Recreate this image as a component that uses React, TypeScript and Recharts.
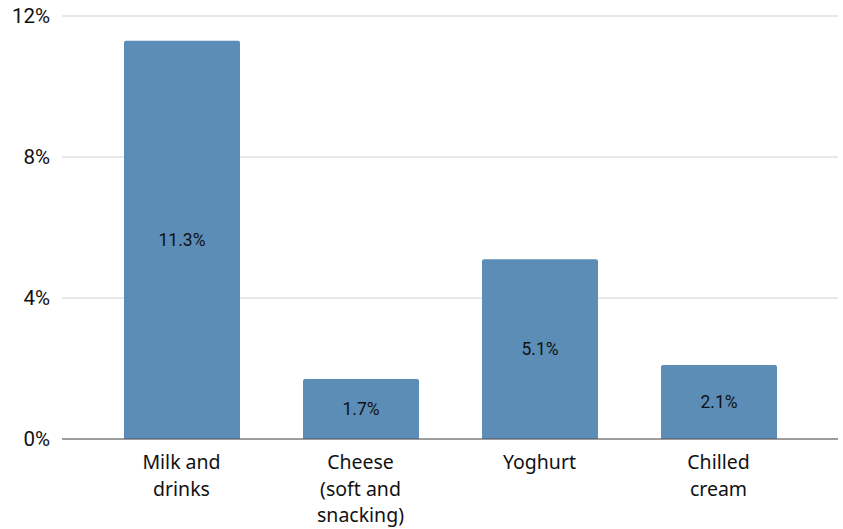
import { BarChart, Bar, XAxis, YAxis, CartesianGrid, LabelList } from 'recharts';

const categories = ['Milk and\ndrinks', 'Cheese\n(soft and\nsnacking)', 'Yoghurt', 'Chilled\ncream'];
const shares = [11.3, 1.7, 5.1, 2.1];
const yTicks = [0, 4, 8, 12];

const data = categories.map((name, i) => ({ name, value: shares[i] }));

// multi-line category tick
const CategoryTick = ({ x, y, payload }: any) => {
  const lines = String(payload.value).split('\n');
  return (
    <text x={x} y={y} textAnchor="middle" fill="#111" fontSize={19.5} fontFamily="'Noto Sans', sans-serif">
      {lines.map((line, i) => (
        <tspan key={i} x={x} dy={i === 0 ? 22 : 26.5}>{line}</tspan>
      ))}
    </text>
  );
};

export default function App() {
  return (
    <div style={{ position: 'absolute', left: 0, top: 0, background: '#fff' }}>
      <BarChart width={843} height={529} data={data} margin={{ top: 16, right: 5, bottom: 0, left: 0 }}>
        <CartesianGrid stroke="#d0d0d0" vertical={false} />
        <XAxis
          dataKey="name"
          height={90}
          padding={{ left: 30, right: 30 }}
          tickLine={false}
          axisLine={{ stroke: '#555', strokeWidth: 1.2 }}
          tick={<CategoryTick />}
          interval={0}
        />
        <YAxis
          width={62}
          domain={[0, 12]}
          ticks={yTicks}
          tickFormatter={(v) => `${v}%`}
          tickLine={false}
          axisLine={false}
          tickMargin={6}
          tick={{ fill: '#111', fontSize: 20.5, fontFamily: 'Roboto, sans-serif' }}
        />
        <Bar dataKey="value" fill="#5b8db6" barSize={116} radius={[2, 2, 0, 0]} isAnimationActive={false}>
          <LabelList
            dataKey="value"
            position="center"
            formatter={(v: any) => `${v}%`}
            fill="#111"
            fontSize={17.5}
            fontFamily="Roboto, sans-serif"
          />
        </Bar>
      </BarChart>
    </div>
  );
}
